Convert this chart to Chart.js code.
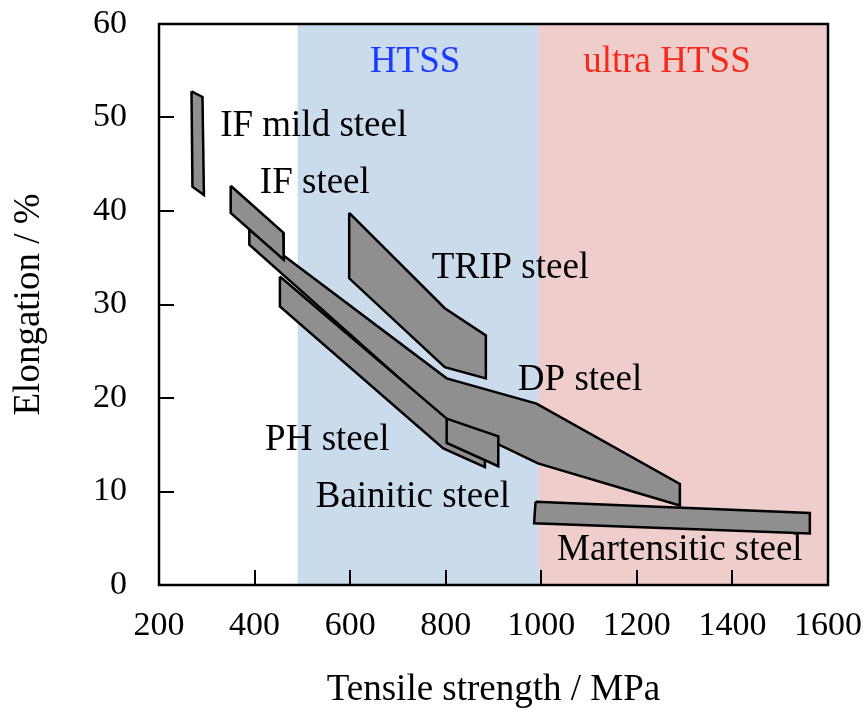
<!DOCTYPE html>
<html>
<head>
<meta charset="utf-8">
<script src="https://cdn.jsdelivr.net/npm/chart.js@4"></script>
<style>
  html, body { margin: 0; padding: 0; background: #fff; }
  #wrap { width: 867px; height: 718px; }
</style>
</head>
<body>
<div id="wrap"><canvas id="chart"></canvas></div>
<script>
// Axis ticks
const xTicks = [200, 400, 600, 800, 1000, 1200, 1400, 1600];
const yTicks = [0, 10, 20, 30, 40, 50, 60];

// Strength bands (MPa)
const bandNames = ['HTSS', 'ultra HTSS'];
const bandFrom = [490, 995];
const bandTo = [995, 1600];

// Steel regions, outline points (tensile strength MPa, elongation %)
const ifMildX = [268, 291, 294, 270];
const ifMildY = [52.8, 52.2, 41.7, 42.6];

const ifSteelX = [350, 460, 461, 350];
const ifSteelY = [42.7, 37.7, 34.8, 39.8];

const tripX = [598, 798, 884, 884, 798, 598];
const tripY = [39.8, 29.6, 26.7, 22.1, 23.3, 32.8];

const dpX = [389, 802, 990, 1290, 1290, 993, 798, 389];
const dpY = [38.0, 22.1, 19.4, 10.8, 8.5, 13.0, 17.8, 36.4];

const bainiticX = [453, 802, 882, 882, 795, 453];
const bainiticY = [33.0, 17.8, 13.5, 12.6, 14.6, 29.8];

const phX = [802, 910, 910, 802];
const phY = [17.8, 15.9, 12.7, 15.2];

const martensiticX = [988, 1562, 1562, 985];
const martensiticY = [8.9, 7.7, 5.5, 6.6];

// Text labels
const labelText = ['IF mild steel', 'IF steel', 'TRIP steel', 'DP steel', 'PH steel', 'Bainitic steel', 'Martensitic steel'];
const labelX = [328, 411, 771, 951, 422, 528, 1033];
const labelY = [49.1, 43.0, 33.9, 21.9, 15.5, 9.4, 3.7];
const bandLabelX = [736, 1263];
const bandLabelY = [55.9, 55.9];

const SERIF = '"Liberation Serif", "DejaVu Serif", serif';
const bandFill = ['#cadbec', '#efcdcb'];
const bandTextColor = ['#1a3cff', '#f42a1c'];

function toPoints(xs, ys) {
  const pts = xs.map((x, i) => ({ x, y: ys[i] }));
  pts.push({ x: xs[0], y: ys[0] });
  return pts;
}

function region(label, xs, ys) {
  return {
    label,
    data: toPoints(xs, ys),
    showLine: true,
    fill: 'shape',
    backgroundColor: '#8f8f8f',
    borderColor: '#000',
    borderWidth: 2.5,
    pointRadius: 0,
    tension: 0,
  };
}

// Index 0 is drawn on top
const datasets = [
  region('Martensitic steel', martensiticX, martensiticY),
  region('PH steel', phX, phY),
  region('IF steel', ifSteelX, ifSteelY),
  region('IF mild steel', ifMildX, ifMildY),
  region('TRIP steel', tripX, tripY),
  region('Bainitic steel', bainiticX, bainiticY),
  region('DP steel', dpX, dpY),
];

const backdrop = {
  id: 'backdrop',
  beforeDatasetsDraw(chart) {
    const { ctx, chartArea, scales } = chart;
    ctx.save();
    bandFrom.forEach((from, i) => {
      const x0 = scales.x.getPixelForValue(from);
      const x1 = scales.x.getPixelForValue(bandTo[i]);
      ctx.fillStyle = bandFill[i];
      ctx.fillRect(x0, chartArea.top, x1 - x0, chartArea.bottom - chartArea.top);
    });
    ctx.restore();
  },
  afterDatasetsDraw(chart) {
    const { ctx, chartArea, scales } = chart;
    ctx.save();
    ctx.font = `37px ${SERIF}`;
    ctx.textBaseline = 'middle';

    ctx.textAlign = 'center';
    bandNames.forEach((name, i) => {
      ctx.fillStyle = bandTextColor[i];
      ctx.fillText(name, scales.x.getPixelForValue(bandLabelX[i]), scales.y.getPixelForValue(bandLabelY[i]));
    });

    ctx.textAlign = 'left';
    ctx.fillStyle = '#000';
    labelText.forEach((text, i) => {
      ctx.fillText(text, scales.x.getPixelForValue(labelX[i]), scales.y.getPixelForValue(labelY[i]));
    });

    // inward tick marks
    ctx.strokeStyle = '#000';
    ctx.lineWidth = 2;
    ctx.beginPath();
    xTicks.forEach((v) => {
      const px = Math.round(scales.x.getPixelForValue(v));
      ctx.moveTo(px, chartArea.bottom);
      ctx.lineTo(px, chartArea.bottom - 15);
    });
    yTicks.forEach((v) => {
      const py = Math.round(scales.y.getPixelForValue(v));
      ctx.moveTo(chartArea.left, py);
      ctx.lineTo(chartArea.left + 15, py);
    });
    ctx.stroke();

    ctx.lineWidth = 2.5;
    ctx.strokeRect(chartArea.left, chartArea.top, chartArea.right - chartArea.left, chartArea.bottom - chartArea.top);
    ctx.restore();
  },
};

new Chart(document.getElementById('chart'), {
  type: 'scatter',
  data: { datasets },
  options: {
    responsive: true,
    maintainAspectRatio: false,
    animation: false,
    layout: { padding: { top: 24, right: 39, left: 0, bottom: 0 } },
    plugins: {
      legend: { display: false },
      tooltip: { enabled: false },
    },
    scales: {
      x: {
        type: 'linear',
        min: 200,
        max: 1600,
        afterBuildTicks: (scale) => { scale.ticks = xTicks.map((value) => ({ value })); },
        afterFit: (scale) => {
          scale.height = 133;
          scale.paddingLeft = 0;
          scale.paddingRight = 0;
        },
        grid: { display: false, drawTicks: false, tickLength: 0 },
        border: { display: false },
        ticks: {
          color: '#000',
          font: { family: SERIF, size: 34 },
          padding: 21,
          maxRotation: 0,
          callback: (value) => String(value),
        },
        title: {
          display: true,
          text: 'Tensile strength / MPa',
          color: '#000',
          font: { family: SERIF, size: 37 },
          padding: { top: 0, bottom: 6 },
        },
      },
      y: {
        type: 'linear',
        min: 0,
        max: 60,
        afterBuildTicks: (scale) => { scale.ticks = yTicks.map((value) => ({ value })); },
        afterFit: (scale) => {
          scale.width = 159;
          scale.paddingTop = 0;
          scale.paddingBottom = 0;
        },
        grid: { display: false, drawTicks: false, tickLength: 0 },
        border: { display: false },
        ticks: { color: '#000', font: { family: SERIF, size: 34 }, padding: 32 },
        title: {
          display: true,
          text: 'Elongation / %',
          color: '#000',
          font: { family: SERIF, size: 37 },
          padding: { top: 7, bottom: 0 },
        },
      },
    },
  },
  plugins: [backdrop],
});
</script>
</body>
</html>
